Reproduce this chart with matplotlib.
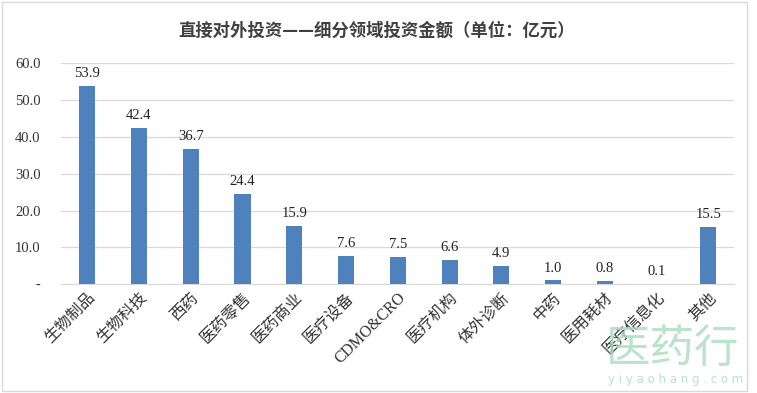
import numpy as np
import matplotlib.pyplot as plt
from matplotlib.patches import Rectangle

plt.rcParams['font.family'] = ['Liberation Serif', 'Noto Sans CJK SC', 'DejaVu Sans']

# данные
categories = ['生物制品', '生物科技', '西药', '医药零售', '医药商业', '医疗设备',
              'CDMO&CRO', '医疗机构', '体外诊断', '中药', '医用耗材', '医疗信息化', '其他']
values = [53.9, 42.4, 36.7, 24.4, 15.9, 7.6, 7.5, 6.6, 4.9, 1.0, 0.8, 0.1, 15.5]
yticks = [0, 10, 20, 30, 40, 50, 60]
ytick_labels = ['-', '10.0', '20.0', '30.0', '40.0', '50.0', '60.0']

fig = plt.figure(figsize=(7.57, 3.93), dpi=100)
ax = fig.add_axes([0.081, 0.277, 0.889, 0.562])

x = np.arange(len(categories))
ax.bar(x, values, width=0.31, color='#4f81bd', zorder=3)

for xi, v in zip(x, values):
    ax.text(xi, v + 1.6, f'{v:.1f}', ha='center', va='bottom', fontsize=10.5, color='#222222')

ax.set_ylim(0, 60)
ax.set_xlim(-0.5, len(categories) - 0.5)
ax.set_yticks(yticks)
ax.set_yticklabels(ytick_labels, fontsize=10.5, color='#333333')
ax.yaxis.grid(True, color='#d9d9d9', linewidth=0.9, zorder=0)
ax.tick_params(axis='y', length=0, pad=15)
ax.tick_params(axis='x', length=0, pad=4)
ax.set_xticks(x)
ax.set_xticklabels(categories, rotation=45, ha='right', va='top',
                   rotation_mode='anchor', fontsize=11.5, color='#333333')
for s in ['top', 'right', 'left']:
    ax.spines[s].set_visible(False)
ax.spines['bottom'].set_color('#d9d9d9')

fig.text(0.497, 0.922, '直接对外投资——细分领域投资金额（单位：亿元）',
         ha='center', va='center', fontsize=12.5, fontweight='bold',
         color='#404040', family=['Noto Sans CJK SC', 'DejaVu Sans'])

# водяной знак
fig.text(0.888, 0.112, '医药行', ha='center', va='center', fontsize=32,
         color='#a8dcc0', alpha=0.8, family=['Noto Sans CJK SC'])
fig.text(0.893, 0.035, 'y i y a o h a n g . c o m', ha='center', va='center', fontsize=8.5,
         color='#a8dcc0', alpha=0.8, family=['DejaVu Sans'])

fig.patches.append(Rectangle((0.002, 0.004), 0.985, 0.99, transform=fig.transFigure,
                             fill=False, edgecolor='#d9d9d9', linewidth=1))

fig.savefig('out.png', dpi=100)
